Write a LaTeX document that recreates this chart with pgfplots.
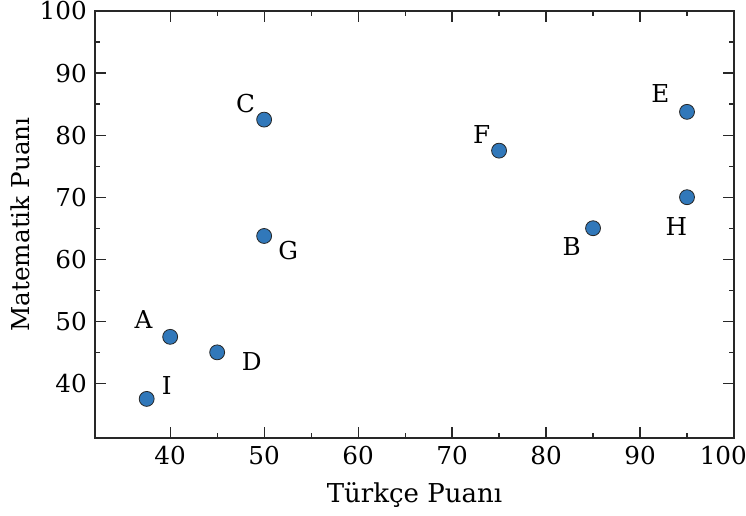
\documentclass[border=0pt]{standalone}
\usepackage{pgfplots}
\pgfplotsset{compat=1.18}
\usepackage{fontspec}
\setmainfont{DejaVu Serif}
\definecolor{pt}{RGB}{49,120,186}
\definecolor{frame}{RGB}{40,40,40}

\pgfplotstableread{
x     y      lab dx  dy
40    47.5   A   -20  13
85    65     B   -16  -13.5
50    82.5   C   -14  12
45    45     D   26   -7
95    83.75  E   -20  14
75    77.5   F   -13  12
50    63.75  G   18   -11
95    70     H   -8   -22
37.5  37.5   I   15   10
}\scores

\begin{document}
\fontsize{18}{21}\selectfont
\begin{tikzpicture}
\begin{axis}[
  scale only axis, width=479.25pt, height=320.25pt,
  xmin=32, xmax=100, ymin=31.2, ymax=100,
  xtick={40,50,...,100}, ytick={40,50,...,100},
  xticklabels={40,50,60,70,80,90,{\kern-16pt 100}},
  minor tick num=1,
  tick align=inside,
  major tick length=8pt, minor tick length=4pt,
  axis line style={frame, line width=0.9pt},
  every tick/.style={frame, line width=0.9pt},
  tick label style={font=\fontsize{18.5}{22}\selectfont},
  /pgf/number format/assume math mode=true,
  xlabel={Türkçe Puanı}, ylabel={Matematik Puanı},
  xlabel style={font=\fontsize{19.5}{23}\selectfont, yshift=-1pt},
  ylabel style={font=\fontsize{18.5}{22}\selectfont, yshift=-5pt},
]
\addplot[only marks, mark=*, mark size=5.6pt,
  mark options={fill=pt, draw=black!85, line width=0.6pt},
  point meta=explicit symbolic,
  visualization depends on={\thisrow{dx} \as \dx},
  visualization depends on={\thisrow{dy} \as \dy},
  nodes near coords,
  nodes near coords style={anchor=center, inner sep=0pt,
    xshift=\dx pt, yshift=\dy pt, font=\fontsize{18.5}{22}\selectfont, black},
] table[x=x, y=y, meta=lab] {\scores};
\coordinate (ll) at (rel axis cs:0,0);
\coordinate (ur) at (rel axis cs:1,1);
\end{axis}
\pgfresetboundingbox
\path[use as bounding box] ([xshift=-71.25pt,yshift=-57.75pt]ll) rectangle ([xshift=9pt,yshift=8.25pt]ur);
\end{tikzpicture}
\end{document}
